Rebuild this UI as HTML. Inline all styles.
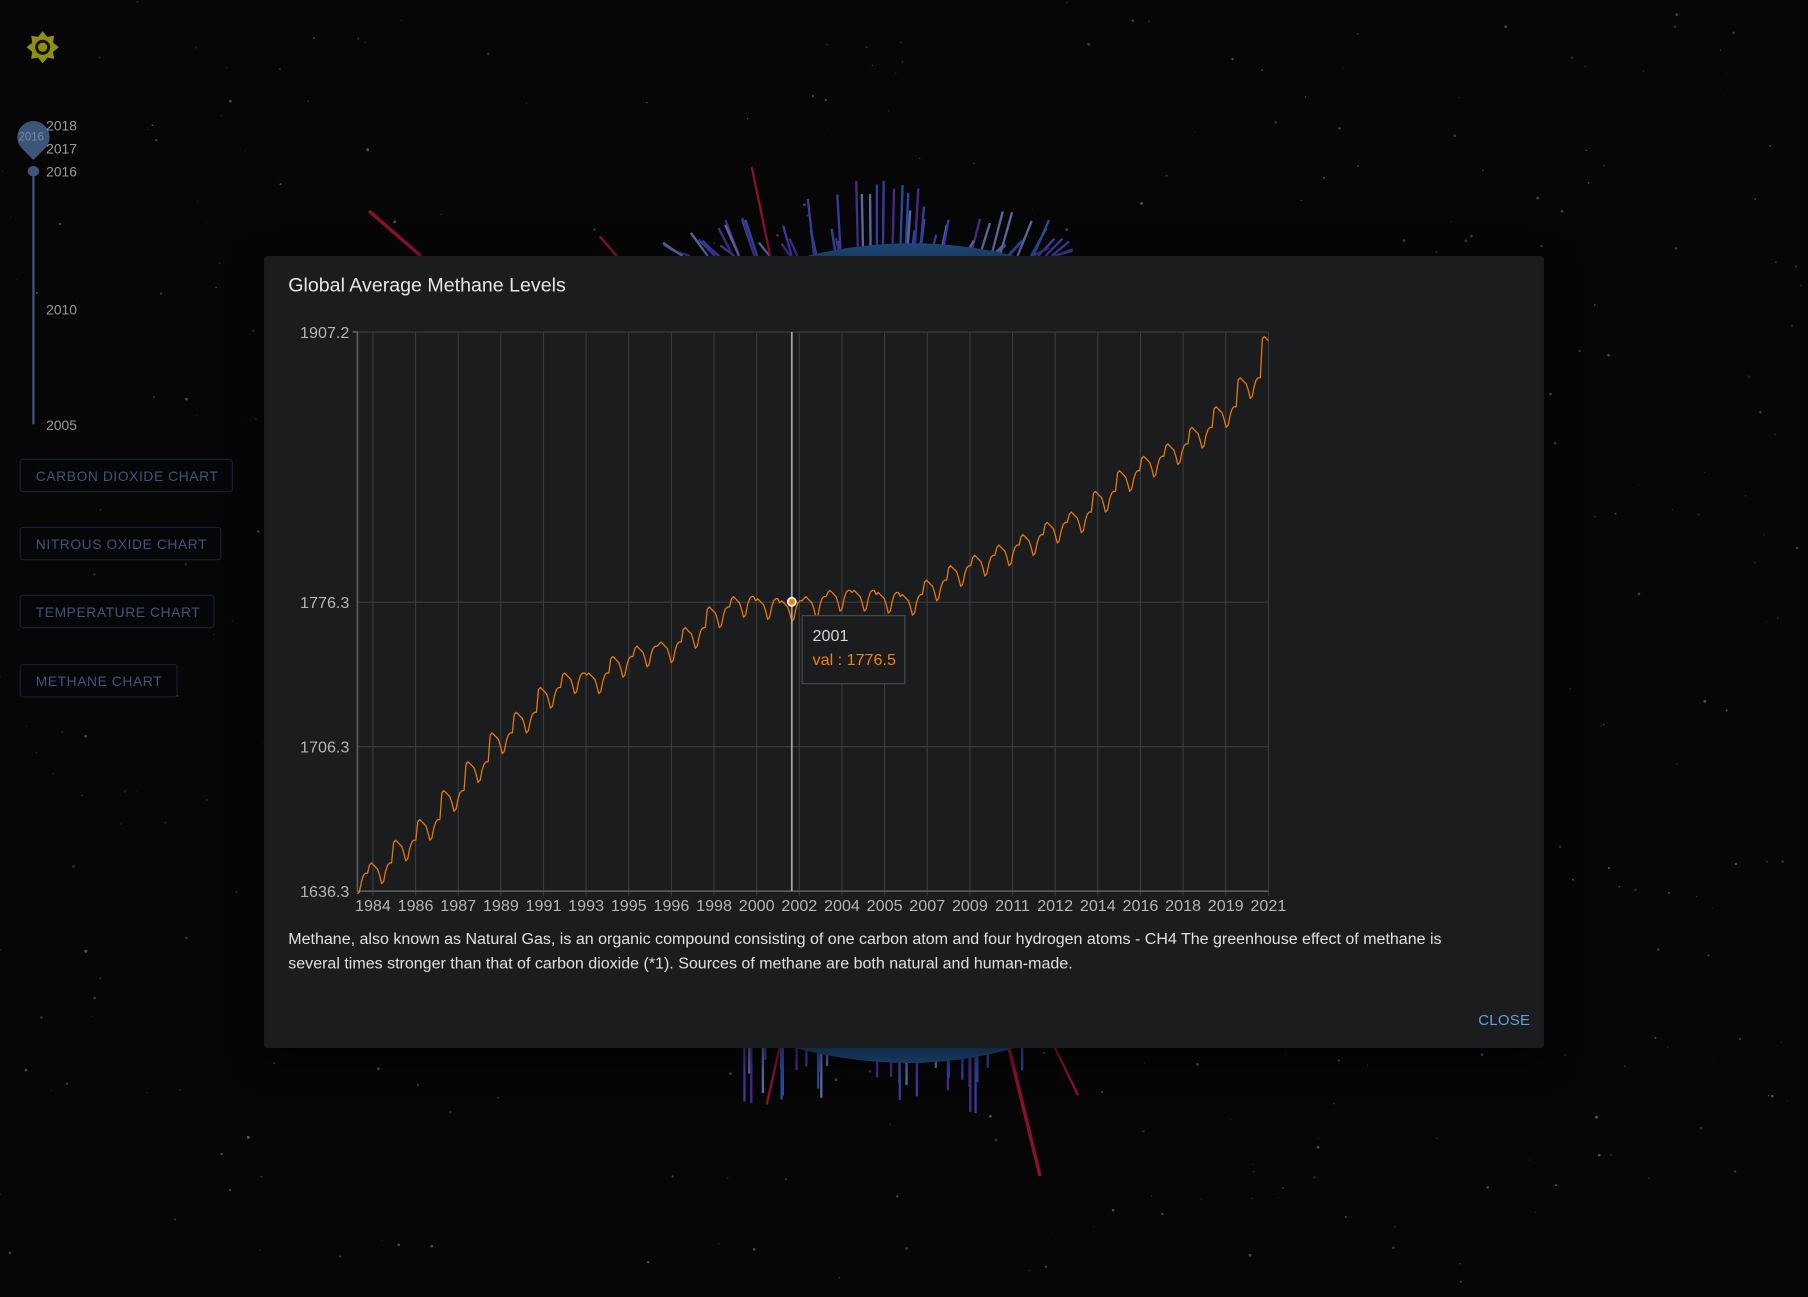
<!DOCTYPE html>
<html><head><meta charset="utf-8">
<style>
html,body{margin:0;padding:0;background:#050506;overflow:hidden;width:1808px;height:1297px}
#root{position:absolute;left:0;top:0;width:1568px;height:1125px;transform:scale(1.15306,1.15289);transform-origin:0 0;font-family:"Liberation Sans",sans-serif;background:#060607}
.btn{position:absolute;left:17px;height:29px;border:1px solid #1a1f2e;border-radius:3px;color:#3d5578;font-size:12px;letter-spacing:0.5px;line-height:29px;padding-left:13px;box-sizing:border-box;background:rgba(5,6,10,0.6)}
.tl{position:absolute;left:40px;color:#9a9a9a;font-size:12px}
</style></head><body>
<div id="root">
<svg id="bg" width="1568" height="1125" style="position:absolute;left:0;top:0">
<defs><radialGradient id="glow" cx="0.5" cy="0.5" r="0.5"><stop offset="0" stop-color="#1a2a40" stop-opacity="0.7"/><stop offset="1" stop-color="#060607" stop-opacity="0"/></radialGradient></defs>
<circle cx="790" cy="560" r="420" fill="url(#glow)"/>
<g id="stars"></g><g id="spikes"></g>
</svg>
<svg width="30" height="30" style="position:absolute;left:22px;top:26px">
<polygon points="15,1 19,6 25,5 24,11 29,15 24,19 25,25 19,24 15,29 11,24 5,25 6,19 1,15 6,11 5,5 11,6" fill="#8f8f12"/>
<circle cx="15" cy="15" r="6.5" fill="#111"/><circle cx="15" cy="15" r="4" fill="#8f8f12"/>
</svg>
<div>
<div style="position:absolute;left:28px;top:148px;width:2px;height:220px;background:#3c5578"></div>
<div style="position:absolute;left:24px;top:144px;width:10px;height:9px;border-radius:50%;background:#3c5578"></div>
<div style="position:absolute;left:15px;top:105px;width:28px;height:28px;border-radius:50% 50% 50% 0;transform:rotate(-45deg);background:#3c5578"></div>
<div style="position:absolute;left:16px;top:114px;font-size:10px;color:#7a8aa0">2016</div>
<div class="tl" style="top:102px">2018</div><div class="tl" style="top:122px">2017</div><div class="tl" style="top:142px">2016</div><div class="tl" style="top:262px">2010</div><div class="tl" style="top:362px">2005</div>
</div>
<div class="btn" style="top:398px;width:185px">CARBON DIOXIDE CHART</div>
<div class="btn" style="top:457px;width:175px">NITROUS OXIDE CHART</div>
<div class="btn" style="top:516px;width:169px">TEMPERATURE CHART</div>
<div class="btn" style="top:576px;width:137px">METHANE CHART</div>

<div style="position:absolute;left:229px;top:222px;width:1110px;height:687px;background:#1b1c1e;border-radius:3px;box-shadow:0 8px 30px rgba(0,0,0,0.6)">
<div style="position:absolute;left:21px;top:16px;font-size:17px;color:#e6e6e6">Global Average Methane Levels</div>
<div style="position:absolute;left:21px;top:582px;font-size:13.9px;line-height:21px;color:#e0e0e0;white-space:nowrap">Methane, also known as Natural Gas, is an organic compound consisting of one carbon atom and four hydrogen atoms - CH4 The greenhouse effect of methane is<br>several times stronger than that of carbon dioxide (*1). Sources of methane are both natural and human-made.</div>
<div style="position:absolute;left:1053px;top:655px;font-size:13px;color:#6a9be0;letter-spacing:0.2px">CLOSE</div>
</div>
<svg id="chart" width="1568" height="1125" style="position:absolute;left:0;top:0"></svg>
</div>
<script>
const years=[1983,1984,1985,1986,1987,1988,1989,1990,1991,1992,1993,1994,1995,1996,1997,1998,1999,2000,2001,2002,2003,2004,2005,2006,2007,2008,2009,2010,2011,2012,2013,2014,2015,2016,2017,2018,2019,2020,2021];
const annualMeans=[1641,1646,1657,1667,1681,1695,1709,1719,1731,1738,1738,1746,1751,1753,1760,1770,1775,1774,1773,1775,1778,1778,1777,1776,1783,1790,1795,1800,1805,1811,1816,1826,1836,1843,1849,1857,1867,1881,1901];
const seasonal=[3,4,3,2,1,-2,-6,-5,0,3,4,4];
const yTicks=[1636.3,1706.3,1776.3,1907.2];
const xTickLabels=["1984","1986","1987","1989","1991","1993","1995","1996","1998","2000","2002","2004","2005","2007","2009","2011","2012","2014","2016","2018","2019","2021"];
const startYear=1983.5, endYear=2021.25;
const tooltipYear=2001.5, tooltipVal=1776.5;
const NS='http://www.w3.org/2000/svg';
const L=310,R=1100,T=288,B=773,yMin=1636.3,yMax=1907.2;
const sx=v=>L+(v-startYear)/(endYear-startYear)*(R-L);
const sy=v=>B-(v-yMin)/(yMax-yMin)*(B-T);
const svg=document.getElementById('chart');
function mk(tag,attrs,parent){const e=document.createElementNS(NS,tag);for(const k in attrs)e.setAttribute(k,attrs[k]);(parent||svg).appendChild(e);return e;}
const pts=[];
years.forEach((y,i)=>{for(let m=0;m<12;m++){const t=y+m/12;if(t<startYear-1e-6||t>endYear+1e-6)continue;pts.push([t,annualMeans[i]+seasonal[m]]);}});
yTicks.forEach(v=>{
 const g=mk('line',{x1:L,x2:R,y1:sy(v),y2:sy(v),stroke:'#3a3b3e','stroke-width':1});
 
 
 const t=mk('text',{x:L-7,y:sy(v)+5,'text-anchor':'end',fill:'#b5b5b5','font-size':14,'font-family':'Liberation Sans, sans-serif'});
 t.textContent=v.toFixed(1);
 
 
});
const nT=xTickLabels.length;
xTickLabels.forEach((lab,i)=>{
 const tv=startYear+(0.017+i*(0.983/(nT-1)))*(endYear-startYear);
 const x=sx(tv);
 const g=mk('line',{x1:x,x2:x,y1:T,y2:B+4,stroke:'#3a3b3e','stroke-width':1});
 
 
 const t=mk('text',{x:x,y:B+17,'text-anchor':'middle',fill:'#b5b5b5','font-size':14,'font-family':'Liberation Sans, sans-serif'});
 t.textContent=lab;
 
 
});
const ax=mk('path',{d:`M${L-4},${T}H${L}V${B}H${R}`,stroke:'#5a5b5e','stroke-width':1.5,fill:'none'});


const line=mk('path',{d:pts.map((p,i)=>(i?'L':'M')+sx(p[0]).toFixed(1)+','+sy(p[1]).toFixed(1)).join(''),stroke:'#e8790e','stroke-width':1.1,fill:'none','stroke-linejoin':'round'});


const cx=sx(tooltipYear),cy=sy(tooltipVal);
const cl=mk('line',{x1:cx,x2:cx,y1:T,y2:B,stroke:'#a8a8a8','stroke-width':1.5});


const dot=mk('circle',{cx:cx,cy:cy,r:3.5,fill:'#f0800f',stroke:'#fff','stroke-width':1.5});


const tb=mk('g',{});


mk('rect',{x:cx+9,y:cy+12,width:89,height:59,fill:'#1b1c1e',stroke:'#4a4b4e','stroke-width':1},tb);
const t1=mk('text',{x:cx+18,y:cy+34,fill:'#d8d8d8','font-size':14,'font-family':'Liberation Sans, sans-serif'},tb);t1.textContent=Math.floor(tooltipYear);
const t2=mk('text',{x:cx+18,y:cy+55,fill:'#f0800f','font-size':14,'font-family':'Liberation Sans, sans-serif'},tb);t2.textContent='val : '+tooltipVal.toFixed(1);
const st=document.getElementById('stars');let s=7;const rnd=()=>{s=(s*16807)%2147483647;return s/2147483647;};
for(let i=0;i<500;i++){const c=document.createElementNS(NS,'circle');c.setAttribute('cx',rnd()*1568);c.setAttribute('cy',rnd()*1125);c.setAttribute('r',0.4+rnd()*0.9);c.setAttribute('fill','rgba(200,200,210,'+(0.1+rnd()*0.3)+')');st.appendChild(c);}
const sp=document.getElementById('spikes');
const cols=['#3a3aa0','#2a4a9a','#4a2a8a','#5a6aa0'];
for(let i=0;i<60;i++){const x=585+rnd()*340;const h=10+rnd()*60;const l=document.createElementNS(NS,'line');l.setAttribute('x1',x);l.setAttribute('x2',x+(x-760)*0.1);l.setAttribute('y1',222);l.setAttribute('y2',222-h*(1-Math.abs(x-760)/250));l.setAttribute('stroke',cols[i%4]);l.setAttribute('stroke-width',2);sp.appendChild(l);}
for(let i=0;i<30;i++){const x=640+rnd()*250;const h=10+rnd()*50;const l=document.createElementNS(NS,'line');l.setAttribute('x1',x);l.setAttribute('x2',x);l.setAttribute('y1',909);l.setAttribute('y2',909+h);l.setAttribute('stroke',cols[i%4]);l.setAttribute('stroke-width',2);sp.appendChild(l);}
sp.insertAdjacentHTML('beforeend','<path d="M700,222 Q790,200 880,222Z" fill="#1e4a7a"/><path d="M690,909 Q790,935 880,909Z" fill="#1e4a7a"/><line x1="320" y1="183" x2="365" y2="222" stroke="#8a1030" stroke-width="3"/><line x1="652" y1="145" x2="668" y2="222" stroke="#8a1030" stroke-width="2"/><line x1="875" y1="909" x2="902" y2="1020" stroke="#8a1030" stroke-width="3"/><line x1="915" y1="909" x2="935" y2="950" stroke="#8a1030" stroke-width="2"/><line x1="676" y1="909" x2="665" y2="958" stroke="#8a1030" stroke-width="2"/><line x1="520" y1="205" x2="535" y2="222" stroke="#8a1030" stroke-width="2"/>');
</script>
</body></html>
